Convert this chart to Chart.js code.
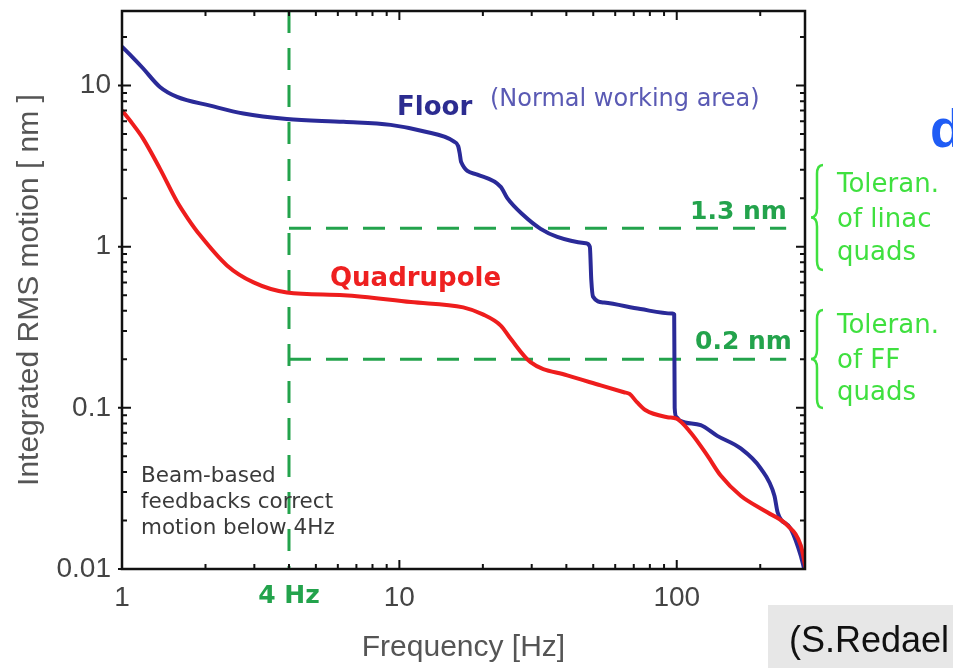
<!DOCTYPE html>
<html><head><meta charset="utf-8">
<script src="https://cdn.jsdelivr.net/npm/chart.js@4.4.1/dist/chart.umd.min.js"></script>
<style>html,body{margin:0;padding:0;background:#fff;} #wrap{position:relative;width:953px;height:668px;overflow:hidden;background:#fff;}</style>
</head><body><div id="wrap"><canvas id="c" width="953" height="668"></canvas></div>
<script>
// ---- data ----
const floorFreq = [1, 1.09, 1.19, 1.37, 1.58, 2.08, 2.74, 3.93, 6.3, 9.3, 12.2, 15.7, 16.3, 16.5, 16.7, 19.1, 23.2, 24.5, 28.1, 32.3, 37.1, 47.0, 48.6, 49.2, 49.9, 54.7, 74, 96.5, 97.9, 98.3, 99.5, 103, 122, 140, 170, 201, 225, 231, 258, 280, 288];
const floorRms  = [17.4, 15.0, 12.8, 9.8, 8.5, 7.5, 6.7, 6.2, 5.95, 5.7, 5.2, 4.5, 4.2, 3.8, 3.35, 2.8, 2.35, 2.0, 1.56, 1.29, 1.15, 1.05, 1.0, 0.62, 0.49, 0.45, 0.41, 0.385, 0.38, 0.10, 0.088, 0.083, 0.078, 0.067, 0.056, 0.042, 0.0285, 0.0225, 0.0177, 0.0121, 0.01];
const quadFreq = [1, 1.09, 1.19, 1.37, 1.58, 1.73, 1.91, 2.39, 2.98, 3.93, 6.3, 11, 17, 20, 23.2, 25.2, 29.7, 40.3, 53.2, 64.5, 67.6, 72, 77, 92.5, 100, 112, 129, 144, 170, 212, 251, 280, 292];
const quadRms  = [7.0, 5.8, 4.7, 3.05, 1.9, 1.49, 1.18, 0.765, 0.60, 0.52, 0.50, 0.453, 0.42, 0.38, 0.324, 0.268, 0.192, 0.159, 0.138, 0.125, 0.122, 0.108, 0.097, 0.0875, 0.0855, 0.0706, 0.0505, 0.038, 0.0285, 0.0225, 0.0186, 0.014, 0.01];
const feedbackFreq = 4;            // vertical dashed line
const toleranceLevels = [1.3, 0.2]; // horizontal dashed lines (nm)
const toleranceEndFreq = 248;
const xTickValues = [1, 4, 10, 100];
const xTickLabels = ['1', '4 Hz', '10', '100'];
const yTickValues = [0.01, 0.1, 1, 10];
const yTickLabels = ['0.01', '0.1', '1', '10'];
const xRange = [1, 290];
const yRange = [0.01, 29];

const GREEN = '#23a34c';
const LGREEN = '#3fe03f';
const SANS = '"Liberation Sans", Arial, sans-serif';
const DV = '"DejaVu Sans", sans-serif';

const pts = (xs, ys) => xs.map((x, i) => ({x: x, y: ys[i]}));

const datasets = [
  {label: 'Quadrupole', data: pts(quadFreq, quadRms), borderColor: '#ee1d1d', borderWidth: 4, cubicInterpolationMode: 'monotone'},
  {label: 'Floor', data: pts(floorFreq, floorRms), borderColor: '#2a2a98', borderWidth: 4, cubicInterpolationMode: 'monotone'},
  {label: '4 Hz', data: [{x: feedbackFreq, y: yRange[1]}, {x: feedbackFreq, y: yRange[0]}], borderColor: GREEN, borderWidth: 3, borderDash: [22, 15]},
];
toleranceLevels.forEach(v => datasets.push({label: v + ' nm', data: [{x: feedbackFreq, y: v}, {x: toleranceEndFreq, y: v}], borderColor: GREEN, borderWidth: 3, borderDash: [22, 15]}));
datasets.forEach(d => { d.pointRadius = 0; d.fill = false; d.borderCapStyle = 'butt'; });

function txt(ctx, s, x, y, font, color) {
  ctx.font = font; ctx.fillStyle = color; ctx.textAlign = 'left'; ctx.textBaseline = 'alphabetic';
  ctx.fillText(s, x, y);
}
function brace(ctx, x, y1, y2) {
  const w = 6, r = 9, ym = (y1 + y2) / 2;
  ctx.beginPath();
  ctx.moveTo(x + w, y1);
  ctx.quadraticCurveTo(x, y1, x, y1 + r);
  ctx.lineTo(x, ym - r);
  ctx.quadraticCurveTo(x, ym, x - w, ym);
  ctx.quadraticCurveTo(x, ym, x, ym + r);
  ctx.lineTo(x, y2 - r);
  ctx.quadraticCurveTo(x, y2, x + w, y2);
  ctx.stroke();
}

const decor = {
  id: 'decor',
  beforeDraw(chart) {
    const ctx = chart.ctx;
    ctx.save();
    ctx.fillStyle = '#fff'; ctx.fillRect(0, 0, chart.width, chart.height);
    ctx.fillStyle = '#e7e7e7'; ctx.fillRect(768, 605, 185, 63);
    ctx.restore();
  },
  afterDraw(chart) {
    const ctx = chart.ctx;
    const {left, right, top, bottom} = chart.chartArea;
    const xs = chart.scales.x, ys = chart.scales.y;
    ctx.save();
    // frame
    ctx.strokeStyle = '#111'; ctx.lineWidth = 2.5;
    ctx.strokeRect(left, top, right - left, bottom - top);
    // tick marks
    ctx.lineWidth = 2;
    ctx.beginPath();
    for (let k = 0; k <= 2; k++) {
      for (let m = 1; m <= 9; m++) {
        const v = m * Math.pow(10, k);
        if (v < xRange[0] || v > xRange[1]) continue;
        const p = xs.getPixelForValue(v);
        const len = m === 1 ? 9 : 5;
        ctx.moveTo(p, bottom); ctx.lineTo(p, bottom - len);
        ctx.moveTo(p, top); ctx.lineTo(p, top + len);
      }
    }
    for (let k = -2; k <= 1; k++) {
      for (let m = 1; m <= 9; m++) {
        const v = m * Math.pow(10, k);
        if (v < yRange[0] || v > yRange[1]) continue;
        const p = ys.getPixelForValue(v);
        const len = m === 1 ? 9 : 5;
        ctx.moveTo(left - (m === 1 ? 4 : 0), p); ctx.lineTo(left + len, p);
        ctx.moveTo(right, p); ctx.lineTo(right - len, p);
      }
    }
    ctx.stroke();
    // annotations
    txt(ctx, 'Floor', 397, 115, 'bold 26px ' + DV, '#2c2c90');
    txt(ctx, '(Normal working area)', 490, 106, '24px ' + DV, '#5a5ab4');
    txt(ctx, 'Quadrupole', 330, 286, 'bold 26px ' + DV, '#ee2020');
    txt(ctx, '1.3 nm', 690, 219, 'bold 25px ' + DV, GREEN);
    txt(ctx, '0.2 nm', 695, 349, 'bold 25px ' + DV, GREEN);
    const bf = '21.5px ' + DV, bc = '#3a3a3a';
    txt(ctx, 'Beam-based', 141, 482, bf, bc);
    txt(ctx, 'feedbacks correct', 141, 508, bf, bc);
    txt(ctx, 'motion below 4Hz', 141, 534, bf, bc);
    const tf = '26px ' + DV;
    txt(ctx, 'Toleran.', 837, 192, tf, LGREEN);
    txt(ctx, 'of linac', 837, 227, tf, LGREEN);
    txt(ctx, 'quads', 837, 260, tf, LGREEN);
    txt(ctx, 'Toleran.', 837, 333, tf, LGREEN);
    txt(ctx, 'of FF', 837, 368, tf, LGREEN);
    txt(ctx, 'quads', 837, 400, tf, LGREEN);
    ctx.strokeStyle = LGREEN; ctx.lineWidth = 2.5;
    brace(ctx, 817, 165, 270);
    brace(ctx, 817, 310, 408);
    txt(ctx, '(S.Redael', 789, 652, '36px ' + SANS, '#111');
    txt(ctx, 'd', 930, 147, 'bold 54px ' + SANS, '#1f5cf5');
    ctx.restore();
  }
};

new Chart(document.getElementById('c'), {
  type: 'line',
  data: {datasets: datasets},
  plugins: [decor],
  options: {
    responsive: false,
    animation: false,
    devicePixelRatio: 1,
    layout: {padding: {left: 0, right: 148, top: 11, bottom: 0}},
    plugins: {legend: {display: false}, tooltip: {enabled: false}},
    elements: {line: {borderJoinStyle: 'round'}},
    scales: {
      x: {
        type: 'logarithmic', min: xRange[0], max: xRange[1],
        grid: {display: false, drawTicks: false}, border: {display: false},
        afterBuildTicks: s => { s.ticks = xTickValues.map(v => ({value: v})); },
        afterFit: s => { s.height = 99; s.paddingLeft = 0; s.paddingRight = 0; },
        ticks: {
          autoSkip: false, maxRotation: 0, padding: 12,
          callback: (v, i) => xTickLabels[i],
          font: c => (c.tick && c.tick.value === feedbackFreq) ? {family: DV, size: 25, weight: 'bold'} : {family: SANS, size: 28},
          color: c => (c.tick && c.tick.value === feedbackFreq) ? GREEN : '#444'
        },
        title: {display: true, text: 'Frequency [Hz]', color: '#555', font: {family: SANS, size: 30}, padding: {top: 0, bottom: 2}}
      },
      y: {
        type: 'logarithmic', min: yRange[0], max: yRange[1],
        grid: {display: false, drawTicks: false}, border: {display: false},
        afterBuildTicks: s => { s.ticks = yTickValues.map(v => ({value: v})); },
        afterFit: s => { s.width = 122; s.paddingTop = 0; s.paddingBottom = 0; },
        ticks: {
          autoSkip: false, padding: 11,
          callback: (v, i) => yTickLabels[i],
          font: {family: SANS, size: 28}, color: '#444'
        },
        title: {display: true, text: 'Integrated RMS motion [ nm ]', color: '#555', font: {family: SANS, size: 30}, padding: {top: 12, bottom: 0}}
      }
    }
  }
});
</script></body></html>
